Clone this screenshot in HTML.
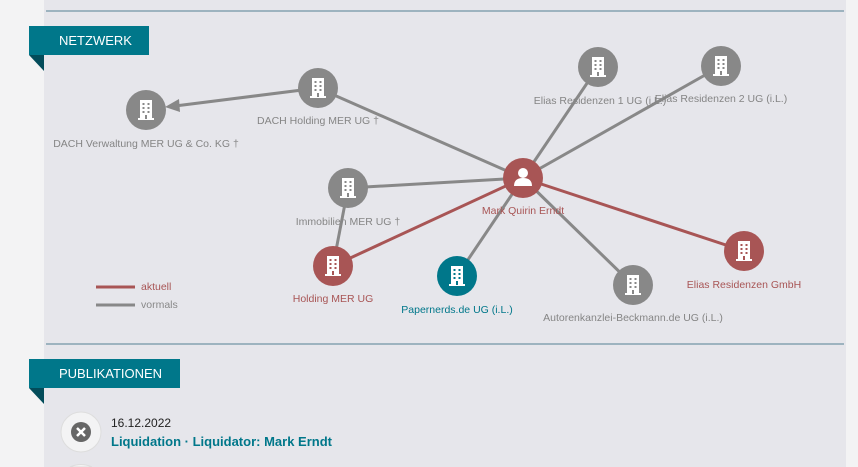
<!DOCTYPE html>
<html style="overflow:hidden"><head><meta charset="utf-8"><style>
html,body{margin:0;width:858px;height:467px;overflow:hidden}
body{background:#f3f3f4;font-family:"Liberation Sans",sans-serif;position:relative}
.main{position:absolute;left:44px;top:0;width:802px;height:467px;background:#e6e6eb}
.hr{position:absolute;left:46px;width:798px;height:2px;background:#9db3bf}
.tab{position:absolute;left:29px;height:29px;background:#00778a;color:#fff;font-size:13px;line-height:29px;padding-left:30px;box-sizing:border-box}
.fold{position:absolute;left:29px;width:0;height:0;border-top:16px solid #034c5a;border-left:15px solid transparent}
</style></head><body>
<div class="main"></div>
<div class="hr" style="top:10px"></div>
<div class="hr" style="top:343px"></div>
<div class="tab" style="top:26px;width:120px">NETZWERK</div>
<div class="fold" style="top:55px"></div>
<div class="tab" style="top:359px;width:151px">PUBLIKATIONEN</div>
<div class="fold" style="top:388px"></div>
<svg width="858" height="467" style="position:absolute;left:0;top:0;overflow:hidden" font-family="Liberation Sans, sans-serif" font-size="10.5">
<defs>
<g id="b"><rect x="-6" y="-10" width="12" height="19" fill="#fff"/><rect x="-8" y="8" width="16" height="2" fill="#fff"/>
<g fill="currentColor"><rect x="-3.5" y="-7" width="2" height="2"/><rect x="1.5" y="-7" width="2" height="2"/><rect x="-3.5" y="-3" width="2" height="2"/><rect x="1.5" y="-3" width="2" height="2"/><rect x="-3.5" y="1" width="2" height="2"/><rect x="1.5" y="1" width="2" height="2"/><rect x="-1" y="5" width="2" height="4"/></g></g>
</defs>
<g stroke-width="3" fill="none">
<line x1="318" y1="88" x2="175" y2="106" stroke="#888"/>
<line x1="318" y1="88" x2="523" y2="178" stroke="#888"/>
<line x1="598" y1="67" x2="523" y2="178" stroke="#888"/>
<line x1="721" y1="66" x2="523" y2="178" stroke="#888"/>
<line x1="348" y1="188" x2="523" y2="178" stroke="#888"/>
<line x1="348" y1="188" x2="333" y2="266" stroke="#888"/>
<line x1="457" y1="276" x2="523" y2="178" stroke="#888"/>
<line x1="633" y1="285" x2="523" y2="178" stroke="#888"/>
<line x1="333" y1="266" x2="523" y2="178" stroke="#a85555"/>
<line x1="744" y1="251" x2="523" y2="178" stroke="#a85555"/>
<line x1="96" y1="287" x2="135" y2="287" stroke="#a85555"/>
<line x1="96" y1="305" x2="135" y2="305" stroke="#888"/>
</g>
<polygon points="165,107 179,99 180,112" fill="#888"/>
<g>
<circle cx="146" cy="110" r="20" fill="#888"/><use href="#b" x="146" y="110" color="#888"/>
<circle cx="318" cy="88" r="20" fill="#888"/><use href="#b" x="318" y="88" color="#888"/>
<circle cx="598" cy="67" r="20" fill="#888"/><use href="#b" x="598" y="67" color="#888"/>
<circle cx="721" cy="66" r="20" fill="#888"/><use href="#b" x="721" y="66" color="#888"/>
<circle cx="348" cy="188" r="20" fill="#888"/><use href="#b" x="348" y="188" color="#888"/>
<circle cx="633" cy="285" r="20" fill="#888"/><use href="#b" x="633" y="285" color="#888"/>
<circle cx="333" cy="266" r="20" fill="#a85555"/><use href="#b" x="333" y="266" color="#a85555"/>
<circle cx="744" cy="251" r="20" fill="#a85555"/><use href="#b" x="744" y="251" color="#a85555"/>
<circle cx="457" cy="276" r="20" fill="#00778a"/><use href="#b" x="457" y="276" color="#00778a"/>
<circle cx="523" cy="178" r="20" fill="#a85555"/>
<circle cx="523" cy="173" r="5" fill="#fff"/><path d="M514 186 Q514 178 523 178 Q532 178 532 186 Z" fill="#fff"/>
</g>
<g text-anchor="middle" fill="#858585">
<text x="146" y="147">DACH Verwaltung MER UG &amp; Co. KG †</text>
<text x="318" y="124">DACH Holding MER UG †</text>
<text x="600" y="104">Elias Residenzen 1 UG (i.L.)</text>
<text x="721" y="102">Elias Residenzen 2 UG (i.L.)</text>
<text x="348" y="225">Immobilien MER UG †</text>
<text x="633" y="321">Autorenkanzlei-Beckmann.de UG (i.L.)</text>
<text x="523" y="214" fill="#a85555">Mark Quirin Erndt</text>
<text x="333" y="302" fill="#a85555">Holding MER UG</text>
<text x="744" y="288" fill="#a85555">Elias Residenzen GmbH</text>
<text x="457" y="313" fill="#00778a">Papernerds.de UG (i.L.)</text>
</g>
<text x="141" y="290" fill="#a85555">aktuell</text>
<text x="141" y="308" fill="#888">vormals</text>
<circle cx="81" cy="432" r="20" fill="#f3f3f4" stroke="#ddd"/>
<circle cx="81" cy="432" r="10" fill="#666"/>
<path d="M77 428 L85 436 M85 428 L77 436" stroke="#fff" stroke-width="2.5"/>
<path d="M70 467 Q81 462 92 467 Z" fill="#f3f3f4" stroke="#ddd"/>
<text x="111" y="427" font-size="12" fill="#222">16.12.2022</text>
<text x="111" y="446" font-size="13" font-weight="bold" fill="#00778a">Liquidation · Liquidator: Mark Erndt</text>
</svg>
</body></html>
